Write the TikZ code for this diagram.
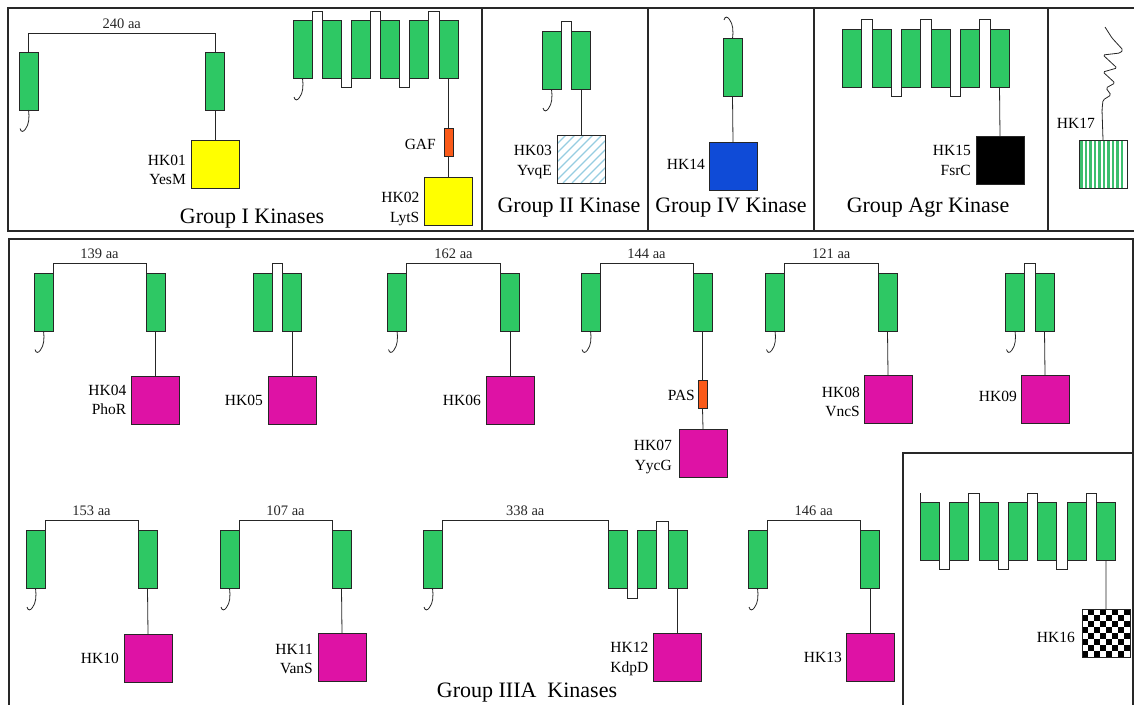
\documentclass[tikz,border=0pt]{standalone}
\usepackage{fontspec}
\setmainfont{Liberation Serif}
\usetikzlibrary{positioning}
\definecolor{tmgreen}{RGB}{46,200,100}
\definecolor{hkyellow}{RGB}{255,255,0}
\definecolor{hkmagenta}{RGB}{222,18,165}
\definecolor{hkblue}{RGB}{15,75,215}
\definecolor{domorange}{RGB}{250,90,25}
\definecolor{hatchblue}{RGB}{150,205,225}
\definecolor{stripegreen}{RGB}{60,190,110}
\definecolor{framegray}{RGB}{40,40,40}

\begin{document}
\begin{tikzpicture}[x=1pt,y=-1pt,
	tm/.style={draw=black!85, fill=tmgreen, line width=0.9pt, minimum width=19pt, minimum height=58pt, inner sep=0pt, outer sep=0pt},
	hkbox/.style={draw=black!85, line width=0.9pt, minimum size=48pt, inner sep=0pt, outer sep=0pt},
	dom/.style={draw=black!85, fill=domorange, line width=0.8pt, minimum width=9pt, minimum height=28pt, inner sep=0pt, outer sep=0pt},
	link/.style={line width=0.8pt, black!85},
	frame/.style={line width=1.3pt, framegray},
	lbl/.style={font=\fontsize{15.5}{19.5}\selectfont, align=right, inner sep=1pt},
	aa/.style={font=\fontsize{14.5}{17}\selectfont, inner sep=4pt, above},
	grouptitle/.style={font=\fontsize{22}{26}\selectfont, inner sep=0pt},
	hatched/.style={hkbox, fill=white, path picture={\foreach \d in {-48,-39,...,48} \draw[hatchblue, line width=1.3pt] ([xshift=\d pt]path picture bounding box.south west) -- ++(60pt,60pt);}},
	striped/.style={hkbox, fill=white, path picture={\foreach \d in {2.5,7,...,47} \draw[stripegreen, line width=2.2pt] ([xshift=\d pt]path picture bounding box.south west) -- ++(0pt,50pt);}},
	checker/.style={hkbox, fill=white, path picture={\foreach \j in {0,...,7} \foreach \i in {0,...,7} {\ifodd\numexpr\i+\j\relax\else \fill[black] ([shift={(\i*6pt,\j*6pt)}]path picture bounding box.south west) rectangle ++(6pt,6pt);\fi}}},
	nterm/.pic={\draw[link] (0,0) .. controls (1,8) and (0.5,14) .. (-3,19) .. controls (-5,22) and (-7.5,22.5) .. (-8.5,18.5);}
	]
	\clip (0,0) rectangle (1134,704);

	% panels
	\draw[frame] (8,8) rectangle (1150,231);
	\foreach \x in {482,648,814,1048} \draw[frame] (\x,8) -- (\x,231);
	\draw[frame] (9,239) rectangle (1133,720);
	\draw[frame] (903,453) rectangle (1150,720);

	% HK01 YesM
	\node[tm] (hk01a) at (28.5,81) {};
	\node[tm] (hk01b) at (215,81) {};
	\node[hkbox, fill=hkyellow] (hk01) at (215,164) {};
	\draw[link] (hk01a.north) -- ++(0,-19) -| node[aa, pos=0.25] {240 aa} (hk01b.north);
	\draw[link] (hk01b.south) -- (hk01.north);
	\pic at (hk01a.south) {nterm};
	\node[lbl, left=4pt of hk01, yshift=-6pt] (hk01lbl) {HK01\\YesM};

	% HK02 LytS
	\foreach \i in {1,...,6} \node[tm] (hk02tm\i) at ({302.5+29.2*(\i-1)},49.5) {};
	\foreach \i/\j in {1/2,3/4,5/6} \draw[link] (hk02tm\i.north east) -- ++(0,-9) -| (hk02tm\j.north west);
	\foreach \i/\j in {2/3,4/5} \draw[link] (hk02tm\i.south east) -- ++(0,9) -| (hk02tm\j.south west);
	\pic at (hk02tm1.south) {nterm};
	\node[dom] (gaf) at (448.5,142.5) {};
	\node[hkbox, fill=hkyellow] (hk02) at (448.5,201) {};
	\draw[link] (hk02tm6.south) -- (gaf.north);
	\draw[link] (gaf.south) -- (hk02.north);
	\node[lbl, left=7pt of gaf, yshift=-2pt] (gaflbl) {GAF};
	\node[lbl, left=4pt of hk02, yshift=-8pt] (hk02lbl) {HK02\\LytS};
	\node[grouptitle] (g1title) at (252,219) {Group I Kinases};

	% HK03 YvqE
	\node[tm] (hk03a) at (551.5,60.5) {};
	\node[tm] (hk03b) at (581,60.5) {};
	\node[hatched] (hk03) at (581,159) {};
	\draw[link] (hk03a.north east) -- ++(0,-10) -| (hk03b.north west);
	\draw[link] (hk03b.south) -- (hk03.north);
	\pic at (hk03a.south) {nterm};
	\node[lbl, left=4pt of hk03, yshift=-3pt] (hk03lbl) {HK03\\YvqE};
	\node[grouptitle] (g2title) at (569,208) {Group II Kinase};

	% HK14
	\node[tm] (hk14a) at (732.5,67.5) {};
	\node[hkbox, fill=hkblue] (hk14) at (733,166) {};
	\draw[link] (hk14a.south) -- (hk14.north);
	\pic[yscale=-1] at (hk14a.north) {nterm};
	\node[lbl, left=3pt of hk14, yshift=2pt] (hk14lbl) {HK14};
	\node[grouptitle] (g4title) at (731,208) {Group IV Kinase};

	% HK15 FsrC
	\foreach \i in {1,...,6} \node[tm] (hk15tm\i) at ({852+29.5*(\i-1)},58) {};
	\foreach \i/\j in {1/2,3/4,5/6} \draw[link] (hk15tm\i.north east) -- ++(0,-10) -| (hk15tm\j.north west);
	\foreach \i/\j in {2/3,4/5} \draw[link] (hk15tm\i.south east) -- ++(0,9) -| (hk15tm\j.south west);
	\node[hkbox, fill=black] (hk15) at (1000,160.5) {};
	\draw[link] (hk15tm6.south) -- (hk15.north);
	\node[lbl, left=4pt of hk15] (hk15lbl) {HK15\\FsrC};
	\node[grouptitle] (gagrtitle) at (928,208) {Group Agr Kinase};

	% HK17
	\node[striped] (hk17) at (1103,164) {};
	\draw[link, rounded corners=1.5pt] (hk17.north) -- (1102,110) -- (1103,100) -- (1111,95) -- (1106,88)
		-- (1115,83) -- (1103,72) -- (1117,68) -- (1103,55) -- (1120,53) -- (1123,50) -- (1112,38) -- (1105,27);
	\node[lbl, anchor=east] (hk17lbl) at (1096,123) {HK17};

	% HK04 PhoR
	\node[tm] (hk04a) at (43.5,302) {};
	\node[tm] (hk04b) at (155.5,302) {};
	\node[hkbox, fill=hkmagenta] (hk04) at (155.5,400) {};
	\draw[link] (hk04a.north east) -- ++(0,-10) -| node[aa, pos=0.25] {139 aa} (hk04b.north west);
	\draw[link] (hk04b.south) -- (hk04.north);
	\pic at (hk04a.south) {nterm};
	\node[lbl, left=4pt of hk04] (hk04lbl) {HK04\\PhoR};

	% HK05
	\node[tm] (hk05a) at (262.5,302) {};
	\node[tm] (hk05b) at (292,302) {};
	\node[hkbox, fill=hkmagenta] (hk05) at (292,400) {};
	\draw[link] (hk05a.north east) -- ++(0,-10) -| (hk05b.north west);
	\draw[link] (hk05b.south) -- (hk05.north);
	\node[lbl, left=4pt of hk05] (hk05lbl) {HK05};

	% HK06
	\node[tm] (hk06a) at (397,302) {};
	\node[tm] (hk06b) at (510,302) {};
	\node[hkbox, fill=hkmagenta] (hk06) at (510,400) {};
	\draw[link] (hk06a.north east) -- ++(0,-10) -| node[aa, pos=0.25] {162 aa} (hk06b.north west);
	\draw[link] (hk06b.south) -- (hk06.north);
	\pic at (hk06a.south) {nterm};
	\node[lbl, left=4pt of hk06] (hk06lbl) {HK06};

	% HK07 YycG
	\node[tm] (hk07a) at (590.5,302) {};
	\node[tm] (hk07b) at (702.5,302) {};
	\node[dom] (pas) at (702.5,394.5) {};
	\node[hkbox, fill=hkmagenta] (hk07) at (703,453) {};
	\draw[link] (hk07a.north east) -- ++(0,-10) -| node[aa, pos=0.25] {144 aa} (hk07b.north west);
	\draw[link] (hk07b.south) -- (pas.north);
	\draw[link] (pas.south) -- (hk07.north);
	\pic at (hk07a.south) {nterm};
	\node[lbl, left=2pt of pas, yshift=-1pt] (paslbl) {PAS};
	\node[lbl, left=6pt of hk07, yshift=-4pt] (hk07lbl) {HK07\\YycG};

	% HK08 VncS
	\node[tm] (hk08a) at (775,302) {};
	\node[tm] (hk08b) at (887.5,302) {};
	\node[hkbox, fill=hkmagenta] (hk08) at (888,399) {};
	\draw[link] (hk08a.north east) -- ++(0,-10) -| node[aa, pos=0.25] {121 aa} (hk08b.north west);
	\draw[link] (hk08b.south) -- (hk08.north);
	\pic at (hk08a.south) {nterm};
	\node[lbl, left=3pt of hk08, yshift=-3pt] (hk08lbl) {HK08\\VncS};

	% HK09
	\node[tm] (hk09a) at (1015,302) {};
	\node[tm] (hk09b) at (1044.5,302) {};
	\node[hkbox, fill=hkmagenta] (hk09) at (1045,399) {};
	\draw[link] (hk09a.north east) -- ++(0,-10) -| (hk09b.north west);
	\draw[link] (hk09b.south) -- (hk09.north);
	\pic at (hk09a.south) {nterm};
	\node[lbl, left=3pt of hk09, yshift=3pt] (hk09lbl) {HK09};

	% HK10
	\node[tm] (hk10a) at (35.5,559.5) {};
	\node[tm] (hk10b) at (147.5,559.5) {};
	\node[hkbox, fill=hkmagenta] (hk10) at (148,658) {};
	\draw[link] (hk10a.north east) -- ++(0,-10) -| node[aa, pos=0.25] {153 aa} (hk10b.north west);
	\draw[link] (hk10b.south) -- (hk10.north);
	\pic at (hk10a.south) {nterm};
	\node[lbl, left=4pt of hk10] (hk10lbl) {HK10};

	% HK11 VanS
	\node[tm] (hk11a) at (229.5,559.5) {};
	\node[tm] (hk11b) at (341.5,559.5) {};
	\node[hkbox, fill=hkmagenta] (hk11) at (342,657.5) {};
	\draw[link] (hk11a.north east) -- ++(0,-10) -| node[aa, pos=0.25] {107 aa} (hk11b.north west);
	\draw[link] (hk11b.south) -- (hk11.north);
	\pic at (hk11a.south) {nterm};
	\node[lbl, left=4pt of hk11, yshift=-1.5pt] (hk11lbl) {HK11\\VanS};

	% HK12 KdpD
	\node[tm] (hk12a) at (432.5,559.5) {};
	\node[tm] (hk12b) at (618,559.5) {};
	\node[tm] (hk12c) at (647,559.5) {};
	\node[tm] (hk12d) at (677.5,559.5) {};
	\node[hkbox, fill=hkmagenta] (hk12) at (677.5,657.5) {};
	\draw[link] (hk12a.north east) -- ++(0,-10) -| node[aa, pos=0.25] {338 aa} (hk12b.north west);
	\draw[link] (hk12b.south east) -- ++(0,10) -| (hk12c.south west);
	\draw[link] (hk12c.north east) -- ++(0,-9) -| (hk12d.north west);
	\draw[link] (hk12d.south) -- (hk12.north);
	\pic at (hk12a.south) {nterm};
	\node[lbl, left=4pt of hk12, yshift=-1.5pt] (hk12lbl) {HK12\\KdpD};

	% HK13
	\node[tm] (hk13a) at (757.5,559.5) {};
	\node[tm] (hk13b) at (870,559.5) {};
	\node[hkbox, fill=hkmagenta] (hk13) at (870,657.5) {};
	\draw[link] (hk13a.north east) -- ++(0,-10) -| node[aa, pos=0.25] {146 aa} (hk13b.north west);
	\draw[link] (hk13b.south) -- (hk13.north);
	\pic at (hk13a.south) {nterm};
	\node[lbl, left=3pt of hk13] (hk13lbl) {HK13};

	\node[grouptitle] (g3title) at (527,693) {Group IIIA\ \ Kinases};

	% HK16
	\foreach \i in {1,...,7} \node[tm] (hk16tm\i) at ({930+29.33*(\i-1)},531) {};
	\foreach \i/\j in {1/2,3/4,5/6} \draw[link] (hk16tm\i.south east) -- ++(0,9) -| (hk16tm\j.south west);
	\foreach \i/\j in {2/3,4/5,6/7} \draw[link] (hk16tm\i.north east) -- ++(0,-9) -| (hk16tm\j.north west);
	\draw[link] (hk16tm1.north west) -- ++(0,-9);
	\node[checker] (hk16) at (1106,633) {};
	\draw[link] (hk16tm7.south) -- (hk16.north);
	\node[lbl, left=6pt of hk16, yshift=-4pt] (hk16lbl) {HK16};
\end{tikzpicture}
\end{document}
